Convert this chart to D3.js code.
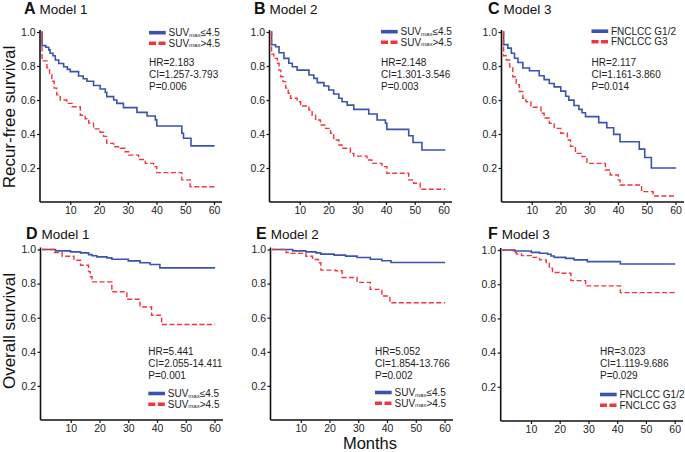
<!DOCTYPE html>
<html><head><meta charset="utf-8">
<script src="https://cdn.jsdelivr.net/npm/d3@7"></script>
<style>
body{margin:0;background:#fff;}
svg{display:block;font-family:"Liberation Sans",Arial,Helvetica,sans-serif;}
</style></head>
<body><svg id="c" width="685" height="452"></svg>
<script>
// ---------- data ----------
const monthTicks = [10, 20, 30, 40, 50, 60];
const survTicks = [0.2, 0.4, 0.6, 0.8, 1.0];

// Recurrence-free survival (top row): [month, survival]
const rfsM1Low = [[0,1],[0.2,0.92],[1.5,0.91],[2.5,0.895],[3,0.875],[4,0.86],[4.8,0.835],[6,0.815],[7.7,0.796],[9,0.78],[10,0.767],[12.9,0.741],[14.5,0.725],[15.8,0.71],[18.1,0.685],[20.4,0.665],[22.2,0.645],[22.7,0.62],[25.1,0.6],[26.2,0.58],[28.5,0.555],[33.2,0.527],[36.7,0.506],[39.6,0.483],[40.1,0.447],[48.8,0.404],[49.4,0.375],[52,0.33],[60.2,0.33]];
const rfsM1High = [[0,1],[0.2,0.83],[1.9,0.79],[2.8,0.75],[3.6,0.71],[4.4,0.67],[5.3,0.63],[6.5,0.6],[8.8,0.58],[10.6,0.56],[13.5,0.51],[15.2,0.49],[16.4,0.464],[18.1,0.43],[20.4,0.41],[21.6,0.386],[22.7,0.345],[25.1,0.325],[27.4,0.316],[29.1,0.296],[30.3,0.276],[33.8,0.25],[36.1,0.227],[39,0.208],[40.1,0.173],[48.8,0.13],[51.7,0.09],[60.2,0.09]];
const rfsM2Low = [[0,1],[0.2,0.925],[1.6,0.913],[2.8,0.878],[4.5,0.845],[6.2,0.816],[7.4,0.796],[9.1,0.776],[13.2,0.747],[14.9,0.727],[16.1,0.702],[18.4,0.682],[20.1,0.659],[21.8,0.635],[23.6,0.61],[24.7,0.59],[26.5,0.57],[28.8,0.545],[34,0.518],[36.9,0.482],[39.8,0.463],[40.3,0.427],[47.9,0.39],[49.4,0.35],[52.5,0.306],[60.6,0.306]];
const rfsM2High = [[0,1],[0.2,0.87],[1.0,0.845],[2.2,0.816],[2.8,0.776],[3.4,0.737],[4.2,0.708],[5.1,0.67],[6,0.64],[6.8,0.61],[9.1,0.59],[10.3,0.565],[13.2,0.541],[14.3,0.51],[15.5,0.482],[17.2,0.453],[19,0.433],[20.7,0.404],[21.8,0.365],[23.6,0.335],[24.7,0.316],[27.6,0.286],[28.8,0.27],[33.4,0.247],[35.1,0.227],[38.6,0.208],[40.3,0.169],[47.9,0.13],[49.6,0.11],[51.9,0.075],[60.6,0.075]];
const rfsM3Low = [[0,1],[0.2,0.926],[1.7,0.905],[2.9,0.875],[4,0.846],[5.2,0.821],[6.9,0.788],[9.2,0.772],[12.6,0.743],[14.3,0.72],[16.1,0.697],[17.8,0.677],[20.1,0.652],[21.8,0.622],[22.9,0.599],[24.7,0.568],[26.4,0.545],[27.5,0.525],[28.7,0.502],[33.3,0.467],[36.1,0.437],[38.5,0.398],[40.7,0.354],[47.4,0.311],[49.3,0.262],[51.6,0.2],[60.2,0.2]];
const rfsM3High = [[0,1],[0.2,0.86],[1.1,0.835],[2.3,0.796],[3.4,0.737],[4.6,0.69],[5.7,0.65],[6.9,0.61],[8,0.59],[9.7,0.557],[13.2,0.522],[14.3,0.494],[16.1,0.463],[17.8,0.433],[20.1,0.404],[22.4,0.365],[23.5,0.327],[25.2,0.286],[27.5,0.267],[29.2,0.227],[35.6,0.188],[37.3,0.159],[40.1,0.13],[40.7,0.1],[48.2,0.061],[52.2,0.035],[60.2,0.035]];

// Overall survival (bottom row)
const osM1Low = [[0,1],[4.7,0.992],[9.9,0.986],[13.4,0.98],[16.2,0.97],[17.4,0.963],[19.1,0.957],[22.6,0.951],[24.3,0.943],[30,0.933],[34.1,0.922],[37.6,0.912],[41,0.892],[60.2,0.892]];
const osM1High = [[0,1],[4.1,0.982],[7,0.96],[11.1,0.937],[13.4,0.908],[16.2,0.87],[16.8,0.84],[17.4,0.81],[24.3,0.752],[29.5,0.708],[34.1,0.663],[38.1,0.614],[41.6,0.56],[60.2,0.56]];
const osM2Low = [[0,1],[7.2,0.992],[11.8,0.986],[15.3,0.98],[17,0.973],[21.6,0.967],[25.6,0.961],[29.6,0.953],[34.2,0.943],[38.2,0.934],[41.4,0.924],[60.2,0.924]];
const osM2High = [[0,1],[4.9,0.982],[6.7,0.977],[11.8,0.96],[14.1,0.941],[16.2,0.922],[17,0.879],[22.1,0.875],[24.4,0.836],[29.6,0.807],[34.2,0.766],[38.2,0.727],[41,0.688],[60.2,0.688]];
const osM3Low = [[0,1],[4.4,0.994],[10.1,0.986],[13,0.981],[15.8,0.975],[17,0.965],[18.1,0.957],[22.1,0.951],[25,0.942],[29.6,0.932],[41.1,0.918],[60.2,0.918]];
const osM3High = [[0,1],[3.8,0.986],[4.9,0.977],[6.7,0.967],[10.1,0.957],[13,0.942],[15.3,0.926],[16.4,0.893],[17.5,0.868],[20.4,0.864],[23.9,0.821],[29,0.79],[41.1,0.751],[60.2,0.751]];

const panelLetters = ["A","B","C","D","E","F"];
const panelModels = ["Model 1","Model 2","Model 3","Model 1","Model 2","Model 3"];
const hrValues = ["HR=2.183","HR=2.148","HR=2.117","HR=5.441","HR=5.052","HR=3.023"];
const ciValues = ["CI=1.257-3.793","CI=1.301-3.546","CI=1.161-3.860","CI=2.055-14.411","CI=1.854-13.766","CI=1.119-9.686"];
const pValues = ["P=0.006","P=0.003","P=0.014","P=0.001","P=0.002","P=0.029"];
const legendKind = ["suv","suv","grade","suv","suv","grade"];
const gradeLabels = ["FNCLCC G1/2","FNCLCC G3"];
const lowSeries = [rfsM1Low, rfsM2Low, rfsM3Low, osM1Low, osM2Low, osM3Low];
const highSeries = [rfsM1High, rfsM2High, rfsM3High, osM1High, osM2High, osM3High];

// ---------- layout ----------
const BLUE = "#3a53ad", RED = "#f0353c";
const layout = [
  {ax:40,   y1:32,    y0:202,   right:222, tx:24,  ty:14,  lx:149, ly:32.7, sy:65.5, legendBelow:false},
  {ax:269.5,y1:32,    y0:202,   right:452, tx:254, ty:14,  lx:381, ly:31.7, sy:65.5, legendBelow:false},
  {ax:501.5,y1:32,    y0:202,   right:684, tx:488, ty:14,  lx:591.5,ly:31.2, sy:65.5, legendBelow:false},
  {ax:40.5, y1:249.5, y0:420,   right:223, tx:26,  ty:238.5,lx:148.3,ly:393.5, sy:354.5, legendBelow:true},
  {ax:270.5,y1:249.5, y0:420,   right:453, tx:256, ty:238.5,lx:375, ly:392.5, sy:354.5, legendBelow:true},
  {ax:500.7,y1:250,   y0:421,   right:683, tx:488, ty:238.5,lx:600, ly:394.5, sy:355, legendBelow:true}
];

const svg = d3.select("#c");

layout.forEach((L, i) => {
  const g = svg.append("g");
  const x = d3.scaleLinear().domain([0, 60]).range([L.ax + 1.5, L.ax + 1.5 + 172.5]);
  const y = d3.scaleLinear().domain([0, 1]).range([L.y0, L.y1]);

  // axes
  const yAxis = d3.axisLeft(y).tickValues(survTicks).tickFormat(d3.format(".1f")).tickSize(3).tickSizeOuter(0).tickPadding(1.5);
  const ya = g.append("g").attr("transform", `translate(${L.ax},0)`).call(yAxis);
  ya.select(".domain").attr("d", `M0,${L.y0}V${L.y1-2}`);
  const xAxis = d3.axisBottom(x).tickValues(monthTicks).tickSize(3).tickSizeOuter(0).tickPadding(2);
  const xa = g.append("g").attr("transform", `translate(0,${L.y0})`).call(xAxis);
  xa.select(".domain").attr("d", `M${L.ax},0H${L.right}`);
  [ya, xa].forEach(a => {
    a.selectAll(".domain").attr("stroke", "#111").attr("stroke-width", 1.6);
    a.selectAll(".tick line").attr("stroke", "#111").attr("stroke-width", 1.2);
    a.selectAll(".tick text").attr("fill", "#222").style("font-size", "10.5px");
  });

  // curves
  const line = d3.line().x(d => x(d[0])).y(d => y(d[1])).curve(d3.curveStepAfter);
  g.append("path").datum(lowSeries[i]).attr("d", line)
    .attr("fill", "none").attr("stroke", BLUE).attr("stroke-width", 1.6);
  g.append("path").datum(highSeries[i]).attr("d", line)
    .attr("fill", "none").attr("stroke", RED).attr("stroke-width", 1.4).attr("stroke-dasharray", "5,2.5");

  // title
  const t = g.append("text").attr("x", L.tx).attr("y", L.ty).attr("fill", "#111");
  t.append("tspan").text(panelLetters[i]).style("font-size", "16px").style("font-weight", "bold");
  t.append("tspan").attr("dx", 4).text(panelModels[i]).style("font-size", "13.5px");

  // legend
  const leg = g.append("g");
  const rows = [{c: BLUE, dash: null, y: L.ly}, {c: RED, dash: "7,2.5", y: L.ly + (L.legendBelow ? 10.7 : 10.6)}];
  rows.forEach((r, k) => {
    leg.append("line").attr("x1", L.lx).attr("x2", L.lx + 16.7).attr("y1", r.y).attr("y2", r.y)
      .attr("stroke", r.c).attr("stroke-width", 3.6).attr("stroke-dasharray", r.dash);
    const tx = leg.append("text").attr("x", L.lx + 19.5).attr("y", r.y + 3.6).attr("fill", "#222").style("font-size", "10px");
    if (legendKind[i] === "suv") {
      tx.append("tspan").text("SUV");
      tx.append("tspan").text("max").style("font-size", "6px").attr("dy", 0.5);
      tx.append("tspan").text(k === 0 ? "≤4.5" : ">4.5").attr("dy", -0.5);
    } else {
      tx.text(gradeLabels[k]);
    }
  });

  // stats
  [hrValues[i], ciValues[i], pValues[i]].forEach((s, k) => {
    g.append("text").attr("x", L.lx).attr("y", L.sy + k * 12).attr("fill", "#222")
      .style("font-size", "10px").text(s);
  });
});

// shared axis titles
svg.append("text").attr("transform", "translate(15,117) rotate(-90)").attr("text-anchor", "middle")
  .style("font-size", "17px").attr("fill", "#111").text("Recur-free survival");
svg.append("text").attr("transform", "translate(15,331) rotate(-90)").attr("text-anchor", "middle")
  .style("font-size", "17px").attr("fill", "#111").text("Overall survival");
svg.append("text").attr("x", 370).attr("y", 448.5).attr("text-anchor", "middle")
  .style("font-size", "16.5px").attr("fill", "#111").text("Months");
</script></body></html>
